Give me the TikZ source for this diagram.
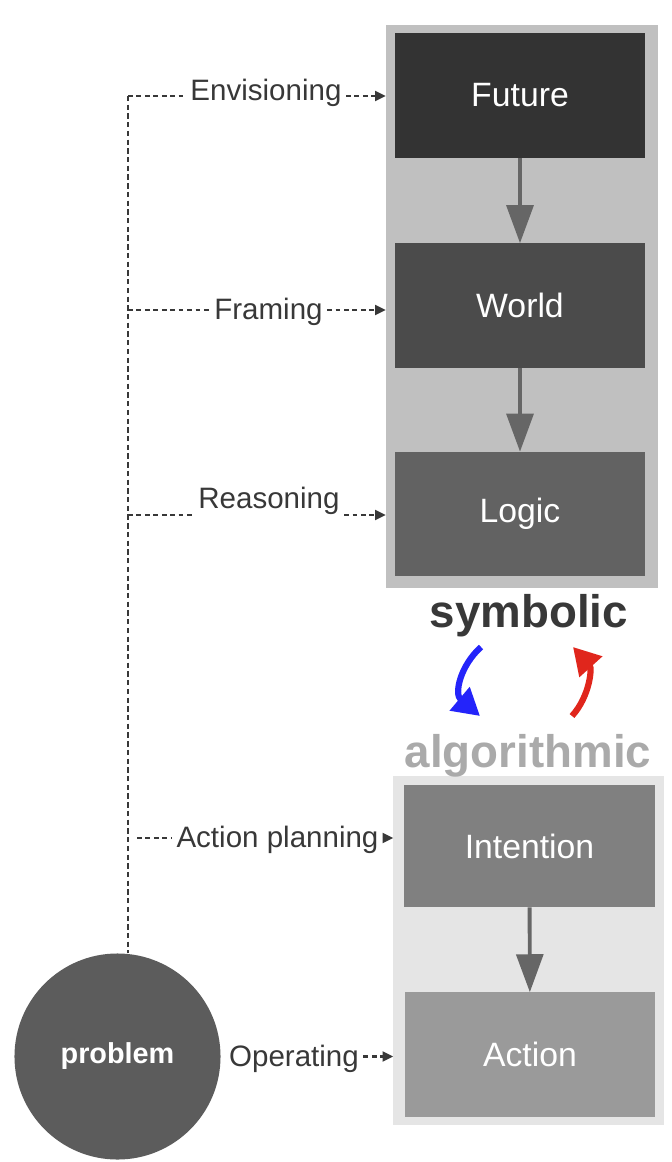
\documentclass[tikz,border=0pt]{standalone}
\usepackage{fontspec}
\setmainfont{Liberation Sans}
\usetikzlibrary{arrows.meta}

\definecolor{panelhi}{HTML}{C0C0C0}
\definecolor{panello}{HTML}{E5E5E5}
\definecolor{inkgray}{HTML}{383838}
\definecolor{linkgray}{HTML}{666666}
\definecolor{downblue}{HTML}{2424FA}
\definecolor{upred}{HTML}{E0261C}

\tikzset{
  layerbox/.style={minimum width=6.25cm, minimum height=3.1cm, inner sep=0pt,
    text=white, font=\fontsize{24}{27}\selectfont},
  panelbox/.style={inner sep=0pt},
  pathlabel/.style={anchor=base, inner sep=3pt, text=inkgray,
    font=\fontsize{21}{24}\selectfont},
  trunkline/.style={line width=1.8pt, inkgray, dash pattern=on 3.8pt off 2.4pt},
  dashline/.style={line width=1.6pt, inkgray, dash pattern=on 3.4pt off 2.6pt},
  dasharrow/.style={dashline, -{Triangle[length=7.5pt, width=7pt]}},
  layerlink/.style={line width=2.8pt, linkgray, -{Triangle[length=27pt, width=19pt]}},
  turnarrow/.style={line width=4.4pt, -{Triangle[length=19pt, width=21pt]}}
}

\begin{document}
\begin{tikzpicture}[x=0.025cm, y=-0.025cm]
  \useasboundingbox (0,0) rectangle (671,1162);
  % paneles
  \node[panelbox, fill=panelhi, minimum width=6.8cm, minimum height=14.075cm] (symbpanel) at (522,306.5) {};
  \node[panelbox, fill=panello, minimum width=6.75cm, minimum height=8.725cm] (algpanel) at (528.5,950.5) {};
  % capas simbolicas
  \node[layerbox, fill={rgb,255:red,51;green,51;blue,51}] (future) at (520,95.5) {Future};
  \node[layerbox, fill={rgb,255:red,75;green,75;blue,75}] (world) at (520,305.5) {World};
  \node[layerbox, fill={rgb,255:red,98;green,98;blue,98}] (logic) at (520,514) {Logic};
  \draw[layerlink] (future) -- (world);
  \draw[layerlink] (world) -- (logic);
  % capas algoritmicas
  \node[layerbox, fill={rgb,255:red,128;green,128;blue,128}, minimum height=3.05cm] (intention) at (529.5,846) {Intention};
  \node[layerbox, fill={rgb,255:red,154;green,154;blue,154}] (action) at (530,1054.5) {Action};
  \draw[layerlink] (intention) -- (action);
  % titulos
  \node[anchor=base, inner sep=0pt, text=inkgray, font=\bfseries\fontsize{32.5}{36}\selectfont] (symbolic) at (529,627) {symbolic};
  \node[anchor=base, inner sep=0pt, text={rgb,255:red,170;green,170;blue,170}, font=\bfseries\fontsize{32.5}{36}\selectfont] (algorithmic) at (528,767) {algorithmic};
  % ida y vuelta
  \coordinate (downstart) at (481,647);
  \coordinate (downend) at (480,716);
  \coordinate (upstart) at (572,716);
  \coordinate (upend) at (573,647);
  \draw[turnarrow, downblue] (downstart) .. controls (460,666) and (454,694) .. (downend);
  \draw[turnarrow, upred] (upstart) .. controls (590,696) and (592,668) .. (upend);
  % problema
  \node[circle, fill={rgb,255:red,92;green,92;blue,92}, minimum size=5.15cm, inner sep=0pt,
    text=white, font=\bfseries\fontsize{20.5}{24}\selectfont] (problem) at (117.5,1056.5) {problem};
  % rutas punteadas
  \coordinate (tenv) at (128,96);
  \coordinate (tfra) at (128,310);
  \coordinate (trea) at (128,515);
  \coordinate (tact) at (137,838);
  \node[pathlabel] (envisioning) at (266,101) {Envisioning};
  \node[pathlabel] (framing) at (268.5,319) {Framing};
  \node[pathlabel] (reasoning) at (269,508) {Reasoning};
  \node[pathlabel] (planning) at (277.5,847) {Action planning};
  \node[pathlabel] (operating) at (294,1066) {Operating};
  \draw[trunkline] (tenv) -- (tenv |- problem.north);
  \draw[dashline] (tenv) -- (tenv -| envisioning.west);
  \draw[dasharrow] (tenv -| envisioning.east) -- (tenv -| symbpanel.west);
  \draw[dashline] (tfra) -- (tfra -| framing.west);
  \draw[dasharrow] (tfra -| framing.east) -- (tfra -| symbpanel.west);
  \draw[dashline] (trea) -- (trea -| reasoning.west);
  \draw[dasharrow] (trea -| reasoning.east) -- (trea -| symbpanel.west);
  \draw[dashline] (tact) -- (tact -| planning.west);
  \draw[dasharrow] (tact -| planning.east) -- (tact -| algpanel.west);
  \draw[dasharrow] (operating.east |- problem) -- (problem -| algpanel.west);
\end{tikzpicture}
\end{document}
